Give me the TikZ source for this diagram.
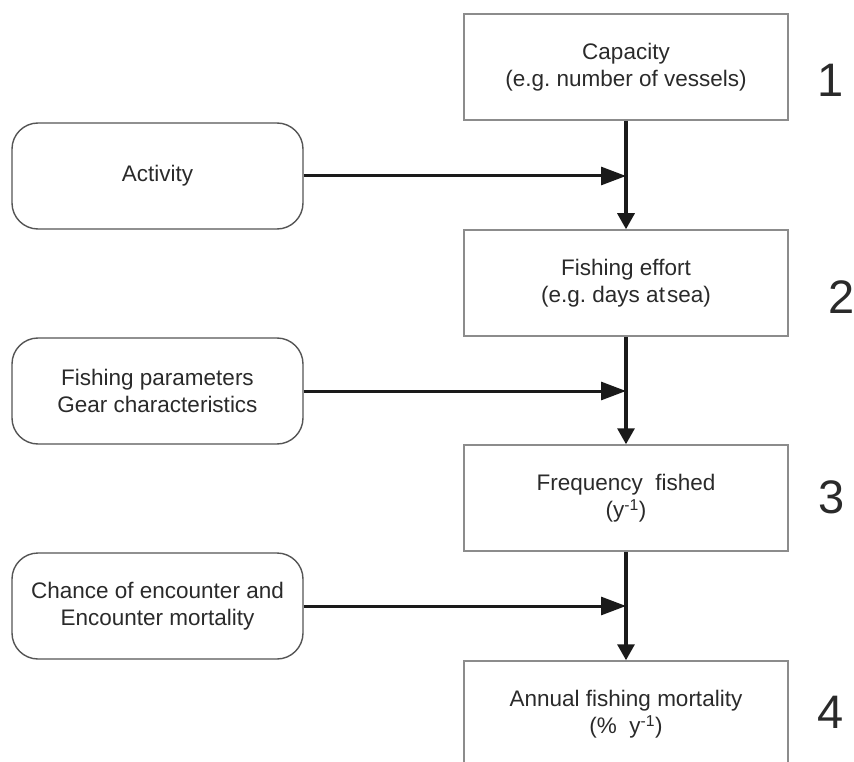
\documentclass[tikz,border=0pt]{standalone}
\usepackage{fontspec}
\setmainfont{Liberation Sans}
\usetikzlibrary{arrows.meta}
\frenchspacing
\definecolor{boxline}{HTML}{8C8C8C}
\definecolor{roundline}{HTML}{555555}
\definecolor{ink}{HTML}{2A2A2A}
\definecolor{flow}{HTML}{1A1A1A}
\begin{document}
\begin{tikzpicture}[x=1pt,y=-1pt,
  stage/.style={draw=boxline,line width=1.5pt,minimum width=324pt,minimum height=106pt,
    inner sep=0pt,align=center,text=ink,font=\fontsize{22.5}{27.5}\selectfont},
  factor/.style={draw=roundline,line width=1.4pt,rounded corners=26pt,minimum width=291pt,
    minimum height=106pt,inner sep=0pt,align=center,text=ink,font=\fontsize{22.5}{26.5}\selectfont},
  stagenum/.style={inner sep=0pt,text=ink,font=\fontsize{47}{47}\selectfont},
  feed/.style={draw=flow,line width=3pt,-{Triangle[length=25pt,width=18pt]}},
  flowdown/.style={draw=flow,line width=3.2pt,-{Triangle[length=16pt,width=17pt]}}]
  \useasboundingbox (0,0) rectangle (854,762);
  \clip (0,0) rectangle (854,762);

  % main chain of stages
  \node[stage] (cap) at (626,67) {Capacity\\(e.g. number of vessels)};
  \node[stage] (effort) at (626,283) {Fishing effort\\(e.g. days at\hspace{2pt}sea)};
  \node[stage] (freq) at (626,498) {Frequency~ fished\\(y\textsuperscript{-1})};
  \node[stage] (mort) at (626,714) {Annual fishing mortality\\(\%~ y\textsuperscript{-1})};

  % stage numbers
  \node[stagenum] (n1) at (831,80) {1};
  \node[stagenum] (n2) at (842,297) {2};
  \node[stagenum] (n3) at (832,497) {3};
  \node[stagenum] (n4) at (831,712) {4};

  % contributing factors
  \node[factor] (act) at (157.5,176) {Activity};
  \node[factor] (gear) at (157.5,391) {Fishing parameters\\Gear characteristics};
  \node[factor] (enc) at (157.5,606) {Chance of encounter and\\Encounter mortality};

  % junctions on the vertical flow
  \coordinate (j1) at (cap.south |- act.east);
  \coordinate (j2) at (effort.south |- gear.east);
  \coordinate (j3) at (freq.south |- enc.east);

  % vertical flow
  \draw[flowdown] (cap.south) -- (effort.north);
  \draw[flowdown] (effort.south) -- (freq.north);
  \draw[flowdown] (freq.south) -- (mort.north);

  % factor inputs
  \draw[feed] (act.east) -- (j1);
  \draw[feed] (gear.east) -- (j2);
  \draw[feed] (enc.east) -- (j3);
\end{tikzpicture}
\end{document}
